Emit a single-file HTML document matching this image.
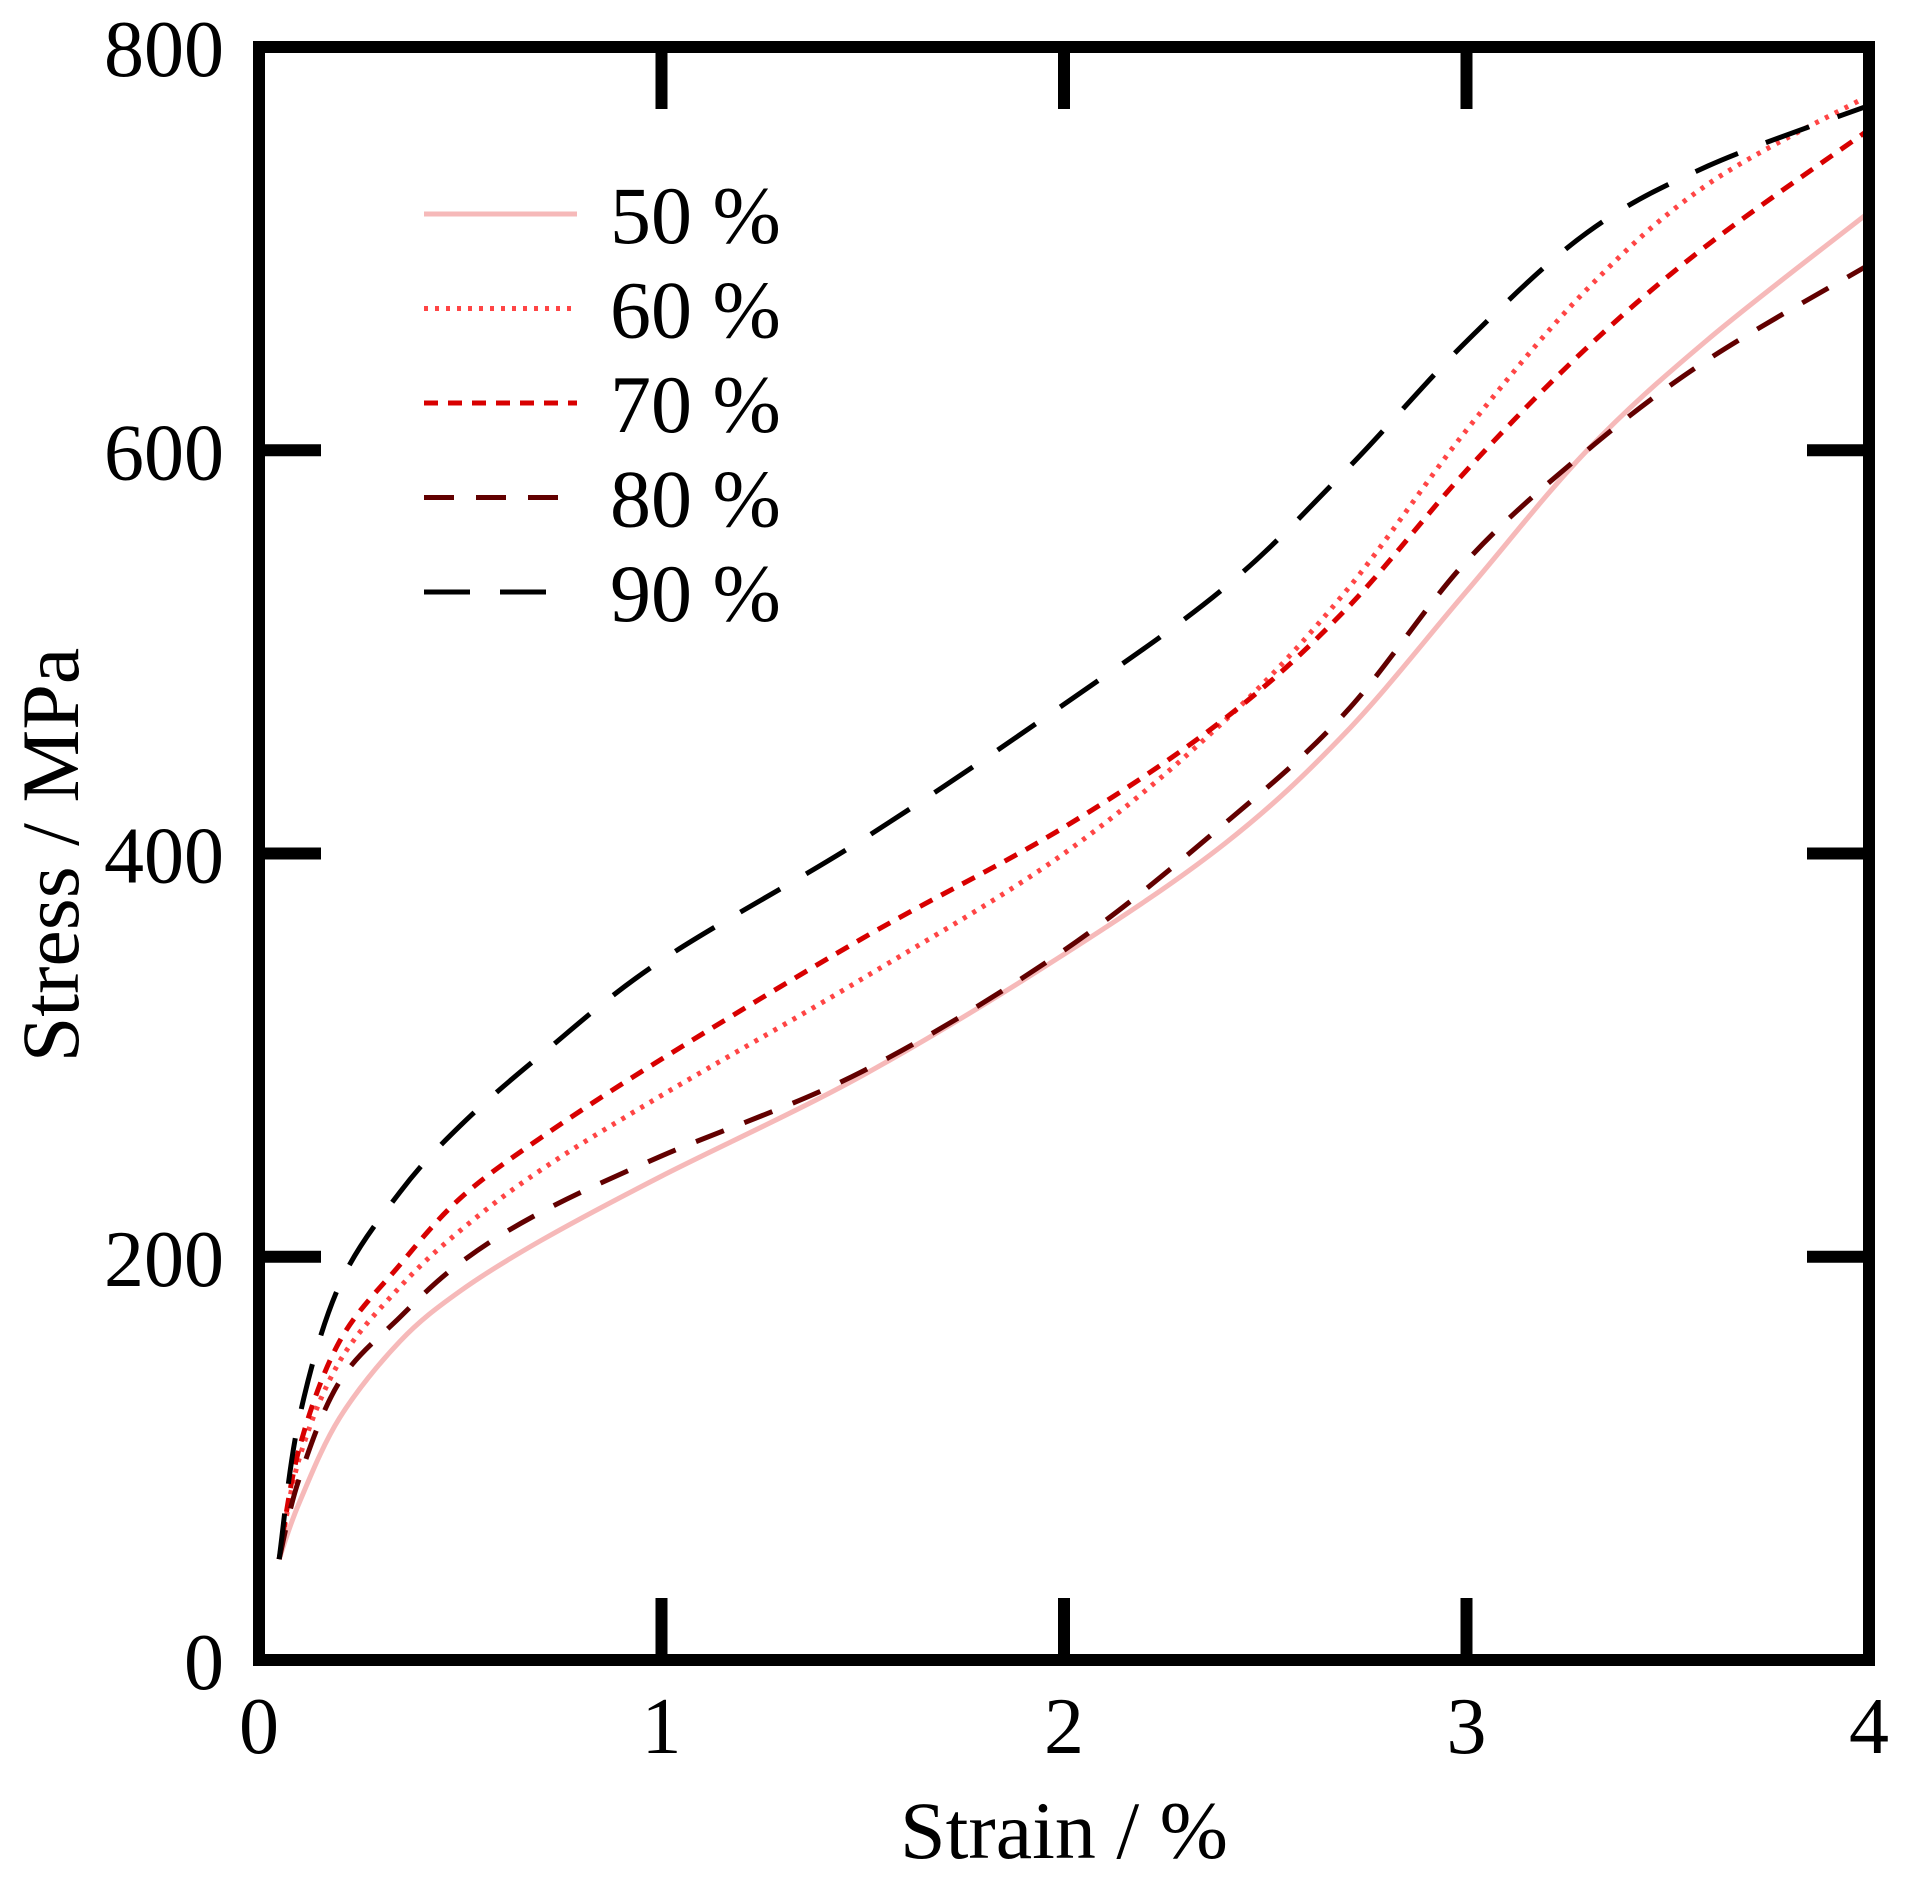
<!DOCTYPE html>
<html><head><meta charset="utf-8"><style>
html,body{margin:0;padding:0;background:#fff;}
svg{display:block;font-family:"Liberation Serif",serif;}
</style></head><body>
<svg id="chart" width="1906" height="1891" viewBox="0 0 1906 1891" xmlns="http://www.w3.org/2000/svg">
<g id="series"></g>
<g id="frame"></g>
<g id="ticks"></g>
<g id="legend"></g>
<text x="1064" y="1858" font-size="82" text-anchor="middle">Strain / %</text>
<text x="0" y="0" font-size="82" text-anchor="middle" transform="translate(78,855) rotate(-90)">Stress / MPa</text>
</svg>
<script>
const xTicks = [0, 1, 2, 3, 4];
const yTicks = [0, 200, 400, 600, 800];
const seriesNames = ["50 %", "60 %", "70 %", "80 %", "90 %"];
const strain = [0.05, 0.1, 0.2, 0.35, 0.5, 0.7, 1, 1.5, 2, 2.4, 2.7, 3, 3.3, 3.6, 4];
const s50 = [50, 78, 120, 158, 183, 208, 240, 290, 350, 405, 460, 530, 600, 655, 718];
const s60 = [50, 100, 148, 185, 213, 243, 280, 338, 400, 466, 530, 610, 680, 732, 776];
const s70 = [50, 105, 158, 196, 229, 259, 298, 358, 413, 467, 521, 590, 651, 702, 759];
const s80 = [50, 90, 138, 170, 197, 222, 250, 292, 352, 415, 470, 545, 600, 645, 692];
const s90 = [50, 120, 186, 232, 265, 300, 347, 407, 474, 532, 590, 654, 708, 741, 771];
const NS = "http://www.w3.org/2000/svg";
const L = 259, R = 1869, T = 47, B = 1660;
function xs(v){ return L + v / 4 * (R - L); }
function ys(v){ return B - v / 800 * (B - T); }
const styles = [
 {c:"#f6b9b9", d:""},
 {c:"#ff4545", d:"4 7"},
 {c:"#d80000", d:"14 10"},
 {c:"#620000", d:"30 22"},
 {c:"#000000", d:"46 30"}
];
const all = [s50, s60, s70, s80, s90];
const sg = document.getElementById("series");
function smoothPath(xsArr, ysArr){
  const p = xsArr.map((x,i)=>[xs(x), ys(ysArr[i])]);
  let d = "M" + p[0][0] + "," + p[0][1];
  for (let i=0;i<p.length-1;i++){
    const p0=p[Math.max(0,i-1)], p1=p[i], p2=p[i+1], p3=p[Math.min(p.length-1,i+2)];
    const c1=[p1[0]+(p2[0]-p0[0])/6, p1[1]+(p2[1]-p0[1])/6];
    const c2=[p2[0]-(p3[0]-p1[0])/6, p2[1]-(p3[1]-p1[1])/6];
    d += " C"+c1[0]+","+c1[1]+" "+c2[0]+","+c2[1]+" "+p2[0]+","+p2[1];
  }
  return d;
}
all.forEach((s,i)=>{
  const p = document.createElementNS(NS,"path");
  p.setAttribute("d", smoothPath(strain, s));
  p.setAttribute("fill","none");
  p.setAttribute("stroke", styles[i].c);
  p.setAttribute("stroke-width","5");
  if (styles[i].d) p.setAttribute("stroke-dasharray", styles[i].d);
  
  
  sg.appendChild(p);
});
const fr = document.getElementById("frame");
const rect = document.createElementNS(NS,"rect");
rect.setAttribute("x",L); rect.setAttribute("y",T);
rect.setAttribute("width",R-L); rect.setAttribute("height",B-T);
rect.setAttribute("fill","none"); rect.setAttribute("stroke","#000"); rect.setAttribute("stroke-width","12");


fr.appendChild(rect);
const tg = document.getElementById("ticks");
const TL = 62;
function line(x1,y1,x2,y2,name){
  const l = document.createElementNS(NS,"line");
  l.setAttribute("x1",x1); l.setAttribute("y1",y1); l.setAttribute("x2",x2); l.setAttribute("y2",y2);
  l.setAttribute("stroke","#000"); l.setAttribute("stroke-width","12");
  
  
  tg.appendChild(l);
}
function text(x,y,s,anchor,size,name){
  const t = document.createElementNS(NS,"text");
  t.setAttribute("x",x); t.setAttribute("y",y); t.setAttribute("text-anchor",anchor);
  t.setAttribute("font-size",size); t.textContent = s;
  
  
  tg.appendChild(t);
}
xTicks.forEach(v=>{
  const x = xs(v);
  line(x,B,x,B-TL,"x-tick"); line(x,T,x,T+TL,"x-tick-top");
  text(x,1753,String(v),"middle",80,"x-tick-label");
});
yTicks.forEach(v=>{
  const y = ys(v);
  line(L,y,L+TL,y,"y-tick"); line(R,y,R-TL,y,"y-tick-right");
  text(224,y+29,String(v),"end",80,"y-tick-label");
});
const lg = document.getElementById("legend");
seriesNames.forEach((n,i)=>{
  const y = 214 + i*94.5;
  const l = document.createElementNS(NS,"line");
  l.setAttribute("x1",424); l.setAttribute("x2",i===4 ? 560 : 577); l.setAttribute("y1",y); l.setAttribute("y2",y);
  l.setAttribute("stroke",styles[i].c); l.setAttribute("stroke-width","5");
  if (styles[i].d) l.setAttribute("stroke-dasharray", styles[i].d);
  
  
  lg.appendChild(l);
  const t = document.createElementNS(NS,"text");
  t.setAttribute("x",610); t.setAttribute("y",y+29); t.setAttribute("font-size",82);
  t.textContent = n;
  
  
  lg.appendChild(t);
});
</script>
</body></html>
